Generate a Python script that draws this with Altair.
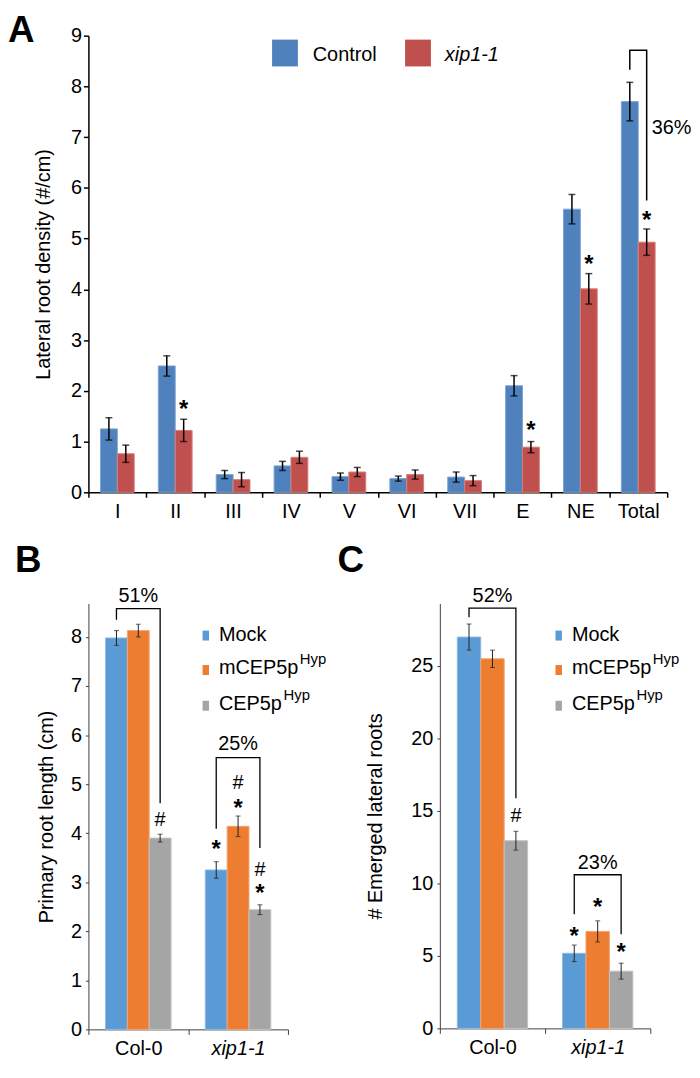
import altair as alt
import pandas as pd

FONT = "Liberation Sans"

# ---------------- Panel A data ----------------
a_cats = ["I", "II", "III", "IV", "V", "VI", "VII", "E", "NE", "Total"]
a_series = ["Control", "xip1-1"]
a_control = [1.25, 2.49, 0.35, 0.52, 0.31, 0.27, 0.30, 2.10, 5.58, 7.70]
a_control_err = [0.22, 0.20, 0.08, 0.09, 0.07, 0.05, 0.10, 0.20, 0.29, 0.38]
a_xip = [0.76, 1.22, 0.25, 0.69, 0.40, 0.35, 0.23, 0.89, 4.01, 4.93]
a_xip_err = [0.17, 0.22, 0.14, 0.12, 0.09, 0.09, 0.10, 0.11, 0.30, 0.26]
a_star_cats = ["II", "E", "NE", "Total"]
a_star_y = [1.74, 1.32, 4.60, 5.46]
a_bracket_series = ["Control", "Control", "xip1-1", "xip1-1"]
a_bracket_y = [8.33, 8.71, 8.71, 5.75]
a_pct_label = "36%"
a_pct_y = 7.06

# ---------------- Panel B / C data ----------------
groups = ["Col-0", "xip1-1"]
treatments = ["Mock", "mCEP5p", "CEP5p"]
b_col0 = [7.98, 8.13, 3.90]
b_col0_err = [0.15, 0.13, 0.08]
b_xip = [3.25, 4.14, 2.44]
b_xip_err = [0.17, 0.21, 0.10]
c_col0 = [27.0, 25.5, 12.95]
c_col0_err = [0.90, 0.60, 0.65]
c_xip = [5.18, 6.69, 3.95]
c_xip_err = [0.57, 0.73, 0.55]

b_mark_group = ["Col-0", "xip1-1", "xip1-1", "xip1-1", "xip1-1", "xip1-1"]
b_mark_treat = ["CEP5p", "Mock", "mCEP5p", "mCEP5p", "CEP5p", "CEP5p"]
b_mark_sym = ["#", "*", "#", "*", "#", "*"]
b_mark_y = [4.29, 3.77, 5.05, 4.62, 3.26, 2.89]
c_mark_group = ["Col-0", "xip1-1", "xip1-1", "xip1-1"]
c_mark_treat = ["CEP5p", "Mock", "mCEP5p", "CEP5p"]
c_mark_sym = ["#", "*", "*", "*"]
c_mark_y = [14.75, 6.68, 8.68, 5.60]

bracket_treat = ["Mock", "Mock", "CEP5p", "CEP5p"]
b_br_col0_y = [8.35, 8.58, 8.58, 4.61]
b_br_xip_y = [4.09, 5.54, 5.54, 3.70]
b_pct_labels = ["51%", "25%"]
b_pct_y = [8.71, 5.69]
c_br_col0_y = [28.36, 29.0, 29.0, 15.87]
c_br_xip_y = [7.88, 10.6, 10.6, 6.5]
c_pct_labels = ["52%", "23%"]
c_pct_y = [29.4, 11.03]

A_COLORS = ["#4F81BD", "#C0504D"]
A_STROKES = ["#7FA3D3", "#D47F7C"]
T_COLORS = ["#5B9BD5", "#ED7D31", "#A5A5A5"]
T_STROKES = ["#8DB9E3", "#F3A574", "#C3C3C3"]


def star_layer(df, X, XO, Y, sym):
    if sym == "*":
        return alt.Chart(df).transform_filter(alt.datum.sym == "*").mark_text(
            font=FONT, fontSize=24, fontWeight="bold", baseline="alphabetic", dy=13, color="black"
        ).encode(x=X, xOffset=XO, y=Y, text="sym:N")
    return alt.Chart(df).transform_filter(alt.datum.sym == "#").mark_text(
        font=FONT, fontSize=20, baseline="alphabetic", dy=7, color="black"
    ).encode(x=X, xOffset=XO, y=Y, text="sym:N")


def rect_value(x1, x2, y1, y2, color):
    return alt.Chart(pd.DataFrame({"k": [0]})).mark_rect(color=color).encode(
        x=alt.value(x1), x2=alt.value(x2), y=alt.value(y1), y2=alt.value(y2)
    )


def text_value(x, y, txt, size=20, style="normal", weight="normal", baseline="alphabetic"):
    return alt.Chart(pd.DataFrame({"t": [txt]})).mark_text(
        font=FONT, fontSize=size, fontStyle=style, fontWeight=weight, align="left",
        baseline=baseline, color="black"
    ).encode(x=alt.value(x), y=alt.value(y), text="t:N")


# ---------------- Panel A ----------------
a_rows = []
for i, c in enumerate(a_cats):
    a_rows.append({"cat": c, "series": "Control", "value": a_control[i], "err": a_control_err[i]})
    a_rows.append({"cat": c, "series": "xip1-1", "value": a_xip[i], "err": a_xip_err[i]})
a_df = pd.DataFrame(a_rows)

A_W, A_H = 583, 460
a_yscale = alt.Scale(domain=[0, 9], nice=False)
a_yaxis = alt.Axis(title="Lateral root density (#/cm)", values=list(range(10)), grid=False,
                   labelFontSize=20, labelFont=FONT, labelColor="black", titleFont=FONT,
                   titleFontSize=20, titleFontWeight="normal", titleColor="black",
                   tickSize=5, tickWidth=1.5, tickColor="black", domainColor="black",
                   domainWidth=1.5, labelPadding=2, titlePadding=17)
aX = alt.X("cat:N", sort=a_cats, scale=alt.Scale(paddingInner=0, paddingOuter=0),
           axis=alt.Axis(title=None, labelAngle=0, labelFontSize=20, labelFont=FONT, labelColor="black",
                         tickBand="extent", tickSize=5, tickWidth=1.5, tickColor="black",
                         domainColor="black", domainWidth=1.5, labelPadding=4))
aXO = alt.XOffset("series:N", sort=a_series, scale=alt.Scale(paddingInner=0, paddingOuter=0.715))


def aY(field):
    return alt.Y(field, scale=a_yscale, axis=a_yaxis)


a_bars = alt.Chart(a_df).mark_bar(strokeWidth=1).encode(
    x=aX, xOffset=aXO, y=aY("value:Q"),
    color=alt.Color("series:N", scale=alt.Scale(domain=a_series, range=A_COLORS), legend=None),
    stroke=alt.Stroke("series:N", scale=alt.Scale(domain=a_series, range=A_STROKES), legend=None),
)
a_errbase = alt.Chart(a_df).transform_calculate(lo="datum.value - datum.err", hi="datum.value + datum.err")
a_err = a_errbase.mark_rule(color="black", strokeWidth=1.5).encode(
    x=aX, xOffset=aXO, y=aY("lo:Q"), y2="hi:Q")
a_cap_lo = a_errbase.mark_tick(color="black", thickness=1.5, size=7, orient="horizontal").encode(
    x=aX, xOffset=aXO, y=aY("lo:Q"))
a_cap_hi = a_errbase.mark_tick(color="black", thickness=1.5, size=7, orient="horizontal").encode(
    x=aX, xOffset=aXO, y=aY("hi:Q"))

a_star_df = pd.DataFrame({"cat": a_star_cats, "series": ["xip1-1"] * len(a_star_cats),
                          "value": a_star_y, "sym": ["*"] * len(a_star_cats)})
a_stars = star_layer(a_star_df, aX, aXO, aY("value:Q"), "*")

a_br_df = pd.DataFrame({"cat": ["Total"] * 4, "series": a_bracket_series, "value": a_bracket_y,
                        "k": [0, 1, 2, 3]})
a_bracket = alt.Chart(a_br_df).mark_line(color="black", strokeWidth=1.5).encode(
    x=aX, xOffset=aXO, y=aY("value:Q"), order="k:Q")
a_pct = alt.Chart(pd.DataFrame({"cat": ["Total"], "series": ["xip1-1"], "value": [a_pct_y],
                                "t": [a_pct_label]})).mark_text(
    font=FONT, fontSize=20, align="left", baseline="alphabetic", dx=5, color="black").encode(
    x=aX, xOffset=aXO, y=aY("value:Q"), text="t:N")

a_legend = [
    rect_value(185, 211, 4, 31, A_COLORS[0]),
    text_value(226, 26, "Control"),
    rect_value(319, 345, 4, 31, A_COLORS[1]),
    text_value(359, 26, "xip1-1", style="italic"),
]
a_letter = text_value(-81, -23, "A", size=37, weight="bold", baseline="top")

panel_a = alt.layer(a_bars, a_err, a_cap_lo, a_cap_hi, a_stars, a_bracket, a_pct, *a_legend, a_letter
                    ).properties(width=A_W, height=A_H)


# ---------------- Panels B, C ----------------
def tri_panel(col0, col0_err, xip, xip_err, ymax, ticks, ytitle, marks, br_col0, br_xip,
              pct_labels, pct_y, width, height, po, letter, letter_x, leg_dx, tpad):
    rows = []
    for i, t in enumerate(treatments):
        rows.append({"grp": "Col-0", "treat": t, "value": col0[i], "err": col0_err[i]})
        rows.append({"grp": "xip1-1", "treat": t, "value": xip[i], "err": xip_err[i]})
    df = pd.DataFrame(rows)
    yscale = alt.Scale(domain=[0, ymax], nice=False)
    yaxis = alt.Axis(title=ytitle, values=ticks, grid=False, labelFontSize=20, labelFont=FONT,
                     labelColor="black", titleFont=FONT, titleFontSize=20, titleFontWeight="normal",
                     titleColor="black", tickSize=3, tickColor="#404040", domainColor="#404040",
                     labelPadding=4, titlePadding=tpad)

    def Y(field):
        return alt.Y(field, scale=yscale, axis=yaxis)

    X = alt.X("grp:N", sort=groups, scale=alt.Scale(paddingInner=0, paddingOuter=0),
              axis=alt.Axis(title=None, labelAngle=0, labelFontSize=20, labelFont=FONT, labelColor="black",
                            labelFontStyle={"condition": {"test": "datum.value == 'xip1-1'", "value": "italic"},
                                            "value": "normal"},
                            tickBand="extent", tickSize=5, tickColor="#404040", domainColor="#404040",
                            labelPadding=4))
    XO = alt.XOffset("treat:N", sort=treatments, scale=alt.Scale(paddingInner=0, paddingOuter=po))
    bars = alt.Chart(df).mark_bar(strokeWidth=1).encode(
        x=X, xOffset=XO, y=Y("value:Q"),
        color=alt.Color("treat:N", scale=alt.Scale(domain=treatments, range=T_COLORS), legend=None),
        stroke=alt.Stroke("treat:N", scale=alt.Scale(domain=treatments, range=T_STROKES), legend=None),
    )
    eb = alt.Chart(df).transform_calculate(lo="datum.value - datum.err", hi="datum.value + datum.err")
    err = eb.mark_rule(color="#202020", strokeWidth=1).encode(
        x=X, xOffset=XO, y=Y("lo:Q"), y2="hi:Q")
    cap_lo = eb.mark_tick(color="#202020", thickness=1, size=5, orient="horizontal").encode(
        x=X, xOffset=XO, y=Y("lo:Q"))
    cap_hi = eb.mark_tick(color="#202020", thickness=1, size=5, orient="horizontal").encode(
        x=X, xOffset=XO, y=Y("hi:Q"))
    mg, mt, ms, my = marks
    mdf = pd.DataFrame({"grp": mg, "treat": mt, "sym": ms, "value": my})
    stars = star_layer(mdf, X, XO, Y("value:Q"), "*")
    hashes = star_layer(mdf, X, XO, Y("value:Q"), "#")
    br_rows = []
    for k in range(4):
        br_rows.append({"grp": "Col-0", "treat": bracket_treat[k], "value": br_col0[k], "k": k})
        br_rows.append({"grp": "xip1-1", "treat": bracket_treat[k], "value": br_xip[k], "k": k})
    br = alt.Chart(pd.DataFrame(br_rows)).mark_line(color="black", strokeWidth=1.3).encode(
        x=X, xOffset=XO, y=Y("value:Q"), order="k:Q", detail="grp:N")
    pct = alt.Chart(pd.DataFrame({"grp": groups, "treat": ["mCEP5p", "mCEP5p"], "value": pct_y,
                                  "t": pct_labels})).mark_text(
        font=FONT, fontSize=20, align="center", baseline="alphabetic", color="black").encode(
        x=X, xOffset=XO, y=Y("value:Q"), text="t:N")
    lx = 115 + leg_dx
    tx = 131.5 + leg_dx
    legend = [
        rect_value(lx, lx + 6.5, 27.3, 37.3, T_COLORS[0]),
        text_value(tx, 38, "Mock"),
        rect_value(lx, lx + 6.5, 62, 72, T_COLORS[1]),
        text_value(tx, 71.3, "mCEP5p"),
        text_value(213 + leg_dx, 61.3, "Hyp", size=15),
        rect_value(lx, lx + 6.5, 98, 108, T_COLORS[2]),
        text_value(tx, 107, "CEP5p"),
        text_value(196.5 + leg_dx, 97, "Hyp", size=15),
    ]
    let = text_value(letter_x, -61, letter, size=37, weight="bold", baseline="top")
    return alt.layer(bars, err, cap_lo, cap_hi, stars, hashes, br, pct, *legend, let
                     ).properties(width=width, height=height)


panel_b = tri_panel(b_col0, b_col0_err, b_xip, b_xip_err, 429 / 49.41, [0, 1, 2, 3, 4, 5, 6, 7, 8],
                    "Primary root length (cm)",
                    (b_mark_group, b_mark_treat, b_mark_sym, b_mark_y),
                    b_br_col0_y, b_br_xip_y, b_pct_labels, b_pct_y, 201, 429, 0.784, "B", -74, 0, 14)
panel_c = tri_panel(c_col0, c_col0_err, c_xip, c_xip_err, 428 / 14.6, [0, 5, 10, 15, 20, 25],
                    "# Emerged lateral roots",
                    (c_mark_group, c_mark_treat, c_mark_sym, c_mark_y),
                    c_br_col0_y, c_br_xip_y, c_pct_labels, c_pct_y, 212, 428, 0.745, "C", -103, 1.5, 26)

row_bc = alt.hconcat(panel_b, panel_c, spacing=153, bounds="flush").resolve_scale(
    color="independent", stroke="independent", xOffset="independent")

chart = alt.vconcat(panel_a, row_bc, spacing=21).resolve_scale(
    color="independent", stroke="independent", xOffset="independent"
).properties(padding=0).configure(font=FONT, view=alt.ViewConfig(stroke=None))

chart.save("out.html", embed_options={"renderer": "svg", "actions": False})
